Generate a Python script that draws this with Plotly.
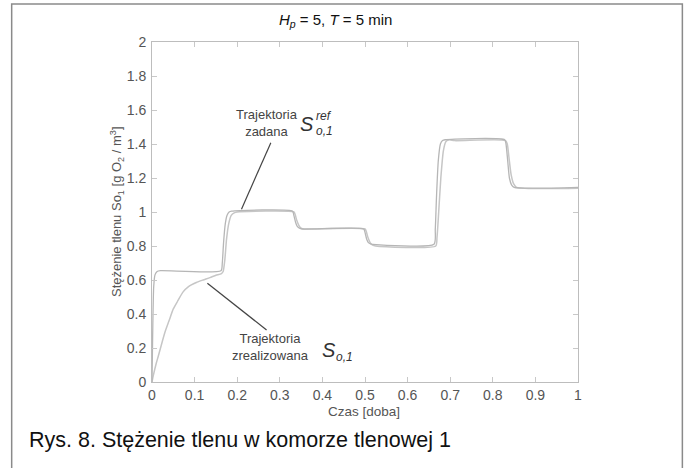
import plotly.graph_objects as go

# ---- data ----
t_ref = [0, 0.002, 0.004, 0.007, 0.012, 0.02, 0.162, 0.165, 0.168, 0.172, 0.176, 0.181, 0.187,
         0.33, 0.333, 0.337, 0.341, 0.346, 0.352, 0.497, 0.5, 0.504, 0.508, 0.513, 0.518,
         0.662, 0.665, 0.668, 0.672, 0.677, 0.682, 0.688, 0.828, 0.831, 0.835, 0.839, 0.844, 0.85, 1.0]
s_ref = [0, 0.35, 0.56, 0.63, 0.65, 0.655, 0.655, 0.70, 0.82, 0.93, 0.98, 1.0, 1.005,
         1.005, 0.98, 0.94, 0.915, 0.905, 0.90, 0.90, 0.88, 0.84, 0.82, 0.812, 0.81,
         0.81, 0.9, 1.1, 1.3, 1.40, 1.42, 1.425, 1.425, 1.40, 1.30, 1.20, 1.16, 1.145, 1.145]

t_real = [0, 0.003, 0.01, 0.015, 0.02, 0.03, 0.04, 0.05, 0.06, 0.073, 0.085, 0.104, 0.12, 0.136,
          0.15, 0.163, 0.167, 0.171, 0.175, 0.18, 0.186, 0.193, 0.2, 0.333, 0.336, 0.34, 0.345,
          0.35, 0.357, 0.5, 0.503, 0.507, 0.512, 0.518, 0.525, 0.666, 0.669, 0.673, 0.678,
          0.684, 0.69, 0.698, 0.71, 0.83, 0.834, 0.838, 0.843, 0.849, 0.856, 1.0]
s_real = [0, 0.037, 0.11, 0.154, 0.2, 0.29, 0.36, 0.43, 0.475, 0.53, 0.56, 0.585, 0.60, 0.614,
          0.628, 0.638, 0.65, 0.72, 0.84, 0.93, 0.98, 0.995, 1.0, 1.0, 0.985, 0.95, 0.92,
          0.905, 0.90, 0.90, 0.885, 0.85, 0.82, 0.805, 0.80, 0.80, 0.85, 1.0, 1.2,
          1.36, 1.415, 1.425, 1.42, 1.42, 1.40, 1.32, 1.22, 1.165, 1.145, 1.14]

x_ticks = [0, 0.1, 0.2, 0.3, 0.4, 0.5, 0.6, 0.7, 0.8, 0.9, 1]
y_ticks = [0, 0.2, 0.4, 0.6, 0.8, 1, 1.2, 1.4, 1.6, 1.8, 2]

# pointer lines (data coords): [x0, y0, x1, y1]
ptr_zadana = [0.279, 1.408, 0.210, 1.016]
ptr_zreal = [0.130, 0.581, 0.269, 0.306]

fig = go.Figure()
fig.add_trace(go.Scatter(x=t_real, y=s_real, mode="lines", line_shape="spline",
                         line=dict(color="#c6c6c6", width=1.5, smoothing=0.6), showlegend=False))
fig.add_trace(go.Scatter(x=t_ref, y=s_ref, mode="lines", line_shape="spline",
                         line=dict(color="#b6b6b6", width=1.3, smoothing=0.6), showlegend=False))

axis_common = dict(showline=True, linecolor="#bdbdbd", linewidth=1, mirror="ticks",
                   ticks="inside", ticklen=5, tickcolor="#c8c8c8", showgrid=False,
                   zeroline=False, tickfont=dict(family="Liberation Sans, Arial", size=14, color="#555"))
fig.update_xaxes(range=[0, 1], tickvals=x_ticks, ticktext=[str(v) for v in x_ticks], **axis_common)
fig.update_yaxes(range=[0, 2], tickvals=y_ticks, ticktext=[("%g" % v) for v in y_ticks],
                 ticklabelstandoff=2, **axis_common)

# pixel -> paper coords (plot area: x 152..578.5, y 42..382)
px = lambda p: (p - 152) / 426.5
py = lambda p: (382 - p) / 340

shapes = [
    dict(type="line", xref="x", yref="y", x0=ptr_zadana[0], y0=ptr_zadana[1], x1=ptr_zadana[2], y1=ptr_zadana[3],
         line=dict(color="#444", width=1.2)),
    dict(type="line", xref="x", yref="y", x0=ptr_zreal[0], y0=ptr_zreal[1], x1=ptr_zreal[2], y1=ptr_zreal[3],
         line=dict(color="#444", width=1.2)),
    dict(type="path", xref="paper", yref="paper",
         path="M %.4f,%.4f L %.4f,%.4f L %.4f,%.4f L %.4f,%.4f" % (
             px(11.5), py(480), px(11.5), py(4), px(683), py(4), px(683), py(480)),
         line=dict(color="#8a8a8a", width=1.5)),
]

F = "Liberation Sans, Arial"
ann = []
def A(text, x, y, size, color="#444", xanchor="center", yanchor="middle", angle=0):
    ann.append(dict(text=text, x=x, y=y, xref="paper", yref="paper", showarrow=False, xanchor=xanchor,
                    yanchor=yanchor, textangle=angle, font=dict(family=F, size=size, color=color)))

A("<i>H</i><sub><i>p</i></sub> = 5, <i>T</i> = 5 min", px(336), py(20), 15, color="#111")
A("Czas [doba]", px(364), py(412), 13.5, color="#555")
A("Stężenie tlenu So<sub>1</sub> [g O<sub>2</sub> / m<sup>3</sup>]", px(117), py(212), 13, color="#555", angle=-90)
A("Rys. 8. Stężenie tlenu w komorze tlenowej 1", px(27), py(440), 21.5, color="#111", xanchor="left")

A("Trajektoria<br>zadana", px(267), py(123), 13, color="#444")
A("<i>S</i>", px(307), py(124), 20, color="#333")
A("<i>ref</i>", px(324), py(116), 12, color="#333")
A("<i>o,1</i>", px(325), py(131), 12, color="#333")

A("Trajektoria<br>zrealizowana", px(271), py(347), 13, color="#444")
A("<i>S</i>", px(329), py(350), 20, color="#333")
A("<i>o,1</i>", px(345), py(357), 12, color="#333")

fig.update_layout(width=689, height=468, margin=dict(l=152, r=110.5, t=42, b=86),
                  paper_bgcolor="white", plot_bgcolor="white", shapes=shapes, annotations=ann,
                  font=dict(family=F))
fig.write_html("out.html", config={"displayModeBar": False},
               post_script="document.body.style.margin='0';document.body.style.overflow='hidden';")
